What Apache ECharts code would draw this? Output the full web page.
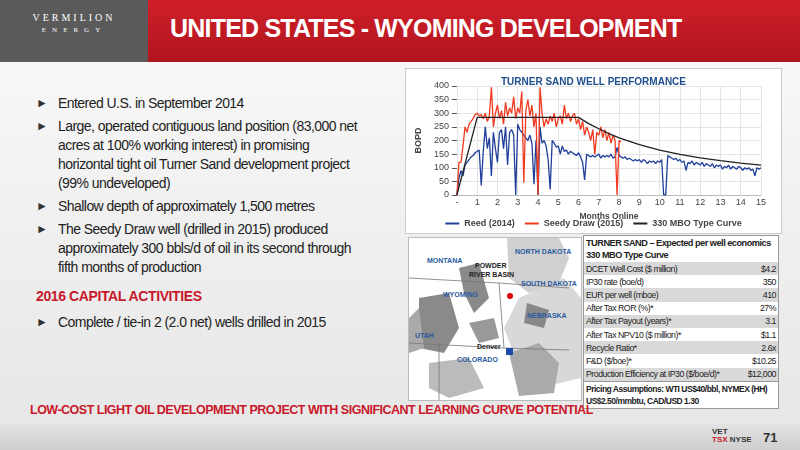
<!DOCTYPE html>
<html><head><meta charset="utf-8">
<script src="https://cdn.jsdelivr.net/npm/echarts@6/dist/echarts.min.js"></script>
<style>
body{margin:0;width:800px;height:450px;overflow:hidden;font-family:"Liberation Sans",Arial,sans-serif;background:linear-gradient(#fafafa,#e6e6e6);position:relative}
#hdr{position:absolute;left:0;top:0;width:800px;height:62px;background:linear-gradient(#d0202a,#b0141d)}
#logo{position:absolute;left:0;top:0;width:148px;height:62px;background:#5a5a5a;color:#fff;text-align:center;font-family:"Liberation Serif",serif;font-size:10px;letter-spacing:3px;padding-top:12px;box-sizing:border-box}
#title{position:absolute;left:170px;top:14px;color:#fff;font-size:25px;font-weight:bold;letter-spacing:-0.8px}
ul{position:absolute;left:36px;top:94px;width:326px;margin:0;padding:0;list-style:none;font-size:14px;letter-spacing:-0.55px;color:#222;line-height:19px}
li{position:relative;padding-left:22px;margin-bottom:4px}
li:before{content:"►";position:absolute;left:0;top:0;color:#333;font-size:12px}
.red{color:#c8182a;font-weight:bold}
#chartbox{position:absolute;left:405px;top:68px;width:375px;height:164px;background:#fff;border:1px solid #ccc}
#mapbox{position:absolute;left:408px;top:237px;width:172px;height:162px;background:#fff;border:1px solid #bbb;overflow:hidden}
#tbl{position:absolute;left:583px;top:235px;width:196px;border:1px solid #999;background:#fff;font-size:8.8px;letter-spacing:-0.5px;border-collapse:collapse}
#tbl td{padding:0 2px;height:13.2px;line-height:10px;color:#222;white-space:nowrap}
#tbl tr.g td{background:#d9d9d9}
#tbl td.v{text-align:right}
#foot{position:absolute;left:30px;top:403px;color:#c8182a;font-weight:bold;font-size:12.5px;letter-spacing:-0.5px}
#bar{position:absolute;left:0;top:424px;width:800px;height:26px;background:linear-gradient(#e2e2e2,#cfcfcf)}
#pg{position:absolute;left:763px;top:430px;font-weight:bold;font-size:13px;color:#333}
</style></head><body>
<div id="hdr"><div id="logo">VERMILION<br><span style="font-size:7px;letter-spacing:6px">ENERGY</span></div><div id="title">UNITED STATES - WYOMING DEVELOPMENT</div></div>
<ul>
<li>Entered U.S. in September 2014</li>
<li>Large, operated contiguous land position (83,000 net acres at 100% working interest) in promising horizontal tight oil Turner Sand development project (99% undeveloped)</li>
<li>Shallow depth of approximately 1,500 metres</li>
<li>The Seedy Draw well (drilled in 2015) produced approximately 300 bbls/d of oil in its second through fifth months of production</li>
</ul>
<div class="red" style="position:absolute;left:36px;top:288px;font-size:14px;letter-spacing:-0.4px">2016 CAPITAL ACTIVITIES</div>
<ul style="top:313px"><li>Complete / tie-in 2 (2.0 net) wells drilled in 2015</li></ul>
<div id="chartbox"><div id="c" style="width:375px;height:164px"></div></div>
<div id="mapbox"><svg width="172" height="163" style="font-family:'Liberation Sans',Arial;font-weight:bold;font-size:7px">
<path d="M98,0 L150,0 L160,20 L150,45 L120,55 L100,40 Z" fill="#d0d0d0"/>
<path d="M110,60 L155,40 L172,60 L172,140 L130,150 L110,130 L95,90 Z" fill="#d8d8d8"/>
<path d="M50,30 L70,25 L80,60 L65,75 L55,55 Z" fill="#8a8a8a"/>
<path d="M10,60 L40,55 L50,90 L35,115 L10,110 Z" fill="#8a8a8a"/>
<path d="M60,85 L85,80 L90,100 L70,105 Z" fill="#999"/>
<path d="M0,80 L10,70 L15,110 L0,115 Z" fill="#aaa"/>
<path d="M20,125 L60,120 L75,150 L40,160 L20,150 Z" fill="#bbb"/>
<path d="M100,115 L130,105 L150,125 L145,155 L110,158 Z" fill="#aaa"/>
<path d="M118,65 L140,72 L135,90 L115,85 Z" fill="#888"/>
<path d="M0,40 L90,45 L95,110 L0,105" fill="none" stroke="#777" stroke-width="0.8"/>
<path d="M90,45 L160,50 M95,110 L160,112 M30,105 L30,163" fill="none" stroke="#777" stroke-width="0.8"/>
<circle cx="101" cy="58" r="3" fill="#d00"/><rect x="97" y="110" width="7" height="7" fill="#1d4aa8"/>
<text x="18" y="25" fill="#2a5aa0">MONTANA</text><text x="66" y="30" fill="#222">POWDER</text><text x="60" y="39" fill="#222">RIVER BASIN</text>
<text x="106" y="16" fill="#2a5aa0">NORTH DAKOTA</text><text x="112" y="48" fill="#2a5aa0">SOUTH DAKOTA</text>
<text x="34" y="59" fill="#2a5aa0">WYOMING</text><text x="118" y="80" fill="#2a5aa0">NEBRASKA</text>
<text x="6" y="100" fill="#2a5aa0">UTAH</text><text x="68" y="111" fill="#222">Denver</text><text x="48" y="124" fill="#2a5aa0">COLORADO</text>
</svg></div>
<table id="tbl">
<tr><td colspan="2" style="font-weight:bold;font-size:9.2px;height:26px;line-height:12px">TURNER SAND – Expected per well economics<br>330 MBO Type Curve</td></tr>
<tr class="g"><td>DCET Well Cost ($ million)</td><td class="v">$4.2</td></tr>
<tr><td>IP30 rate (boe/d)</td><td class="v">350</td></tr>
<tr class="g"><td>EUR per well (mboe)</td><td class="v">410</td></tr>
<tr><td>After Tax ROR (%)*</td><td class="v">27%</td></tr>
<tr class="g"><td>After Tax Payout (years)*</td><td class="v">3.1</td></tr>
<tr><td>After Tax NPV10 ($ million)*</td><td class="v">$1.1</td></tr>
<tr class="g"><td>Recycle Ratio*</td><td class="v">2.6x</td></tr>
<tr><td>F&amp;D ($/boe)*</td><td class="v">$10.25</td></tr>
<tr class="g"><td>Production Efficiency at IP30 ($/boe/d)*</td><td class="v">$12,000</td></tr>
<tr><td colspan="2" style="font-weight:bold;font-size:8.5px;border-top:1px solid #999;height:26px;line-height:12px">Pricing Assumptions: WTI US$40/bbl, NYMEX (HH)<br>US$2.50/mmbtu, CAD/USD 1.30</td></tr>
</table>
<div id="foot">LOW-COST LIGHT OIL DEVELOPMENT PROJECT WITH SIGNIFICANT LEARNING CURVE POTENTIAL</div>
<div id="bar"></div>
<div style="position:absolute;left:712px;top:428px;font-size:8px;font-weight:bold;color:#333;line-height:8px">VET<br><span style="color:#c8182a">TSX</span> NYSE</div>
<div id="pg">71</div>
<script>
// sampled every 0.1 month
const seedyDraw=[0,120,120,180,250,230,260,270,280,295,300,290,295,280,300,270,290,395,250,300,330,280,310,260,340,290,320,300,360,280,320,300,380,45,310,350,290,330,250,300,0,395,300,250,280,260,290,270,300,250,280,290,260,330,280,300,270,290,300,260,280,240,270,220,250,230,200,240,150,230,220,250,210,240,200,230,190,220,200,0,200,195];
const reed=[0,60,90,70,110,120,130,140,145,155,160,165,35,160,250,170,210,70,230,170,120,230,240,170,250,110,230,240,220,0,260,240,230,220,210,200,220,190,40,200,0,250,190,200,180,130,20,200,190,175,180,150,180,160,165,150,160,155,150,145,155,140,120,55,150,145,140,145,140,145,150,135,145,140,145,140,150,135,140,175,145,140,135,140,130,135,130,125,130,125,130,120,130,125,115,125,120,125,115,125,120,130,0,0,145,140,135,130,135,125,130,120,125,90,120,115,125,110,120,115,110,120,105,115,110,105,115,100,110,105,110,95,105,100,110,95,105,100,95,105,100,90,100,95,100,90,95,70,100,95,100];
const typeMonths=[0,1,6,6.5,7,7.5,8,9,10,11,12,13,14,15];
const typeCurve=[0,285,285,262,243,225,210,185,165,149,136,126,117,110];
const xTicks=['-','1','2','3','4','5','6','7','8','9','10','11','12','13','14','15'];
const pairs=a=>a.map((v,i)=>[i/10,v]);
const ch=echarts.init(document.getElementById('c'));
ch.setOption({
 animation:false,
 title:{text:'TURNER SAND WELL PERFORMANCE',left:'center',top:3,textStyle:{fontSize:10,fontWeight:'bold',color:'#1f4e8c',fontFamily:'Liberation Sans'}},
 legend:{bottom:0,itemWidth:14,itemHeight:2,itemGap:10,icon:'rect',textStyle:{fontSize:9,fontWeight:'bold',color:'#444'},data:['Reed (2014)','Seedy Draw (2015)','330 MBO Type Curve']},
 grid:{left:42,right:20,top:17,bottom:38},
 xAxis:{type:'value',min:0,max:15,interval:1,name:'Months Online',nameLocation:'middle',nameGap:11,nameTextStyle:{fontSize:8.5,fontWeight:'bold',color:'#444',lineHeight:9,verticalAlign:'top'},
  axisLabel:{fontSize:9,color:'#444',margin:3,formatter:v=>xTicks[v]},axisLine:{lineStyle:{color:'#bbb'}},axisTick:{show:false},splitLine:{show:true,lineStyle:{color:'#e4e4e4'}}},
 yAxis:{type:'value',min:0,max:400,interval:50,name:'BOPD',nameLocation:'middle',nameGap:28,nameTextStyle:{fontSize:9,fontWeight:'bold',color:'#444'},
  axisLabel:{fontSize:9,color:'#444'},axisLine:{show:false},splitLine:{lineStyle:{color:'#e4e4e4'}}},
 series:[
  {name:'Reed (2014)',type:'line',data:pairs(reed),showSymbol:false,lineStyle:{width:1.3,color:'#1f3f9a'},itemStyle:{color:'#1f3f9a'}},
  {name:'Seedy Draw (2015)',type:'line',data:pairs(seedyDraw),showSymbol:false,lineStyle:{width:1.3,color:'#f03a20'},itemStyle:{color:'#f03a20'}},
  {name:'330 MBO Type Curve',type:'line',data:typeMonths.map((m,i)=>[m,typeCurve[i]]),showSymbol:false,lineStyle:{width:1.3,color:'#222'},itemStyle:{color:'#222'}}
 ]
});
</script></body></html>
